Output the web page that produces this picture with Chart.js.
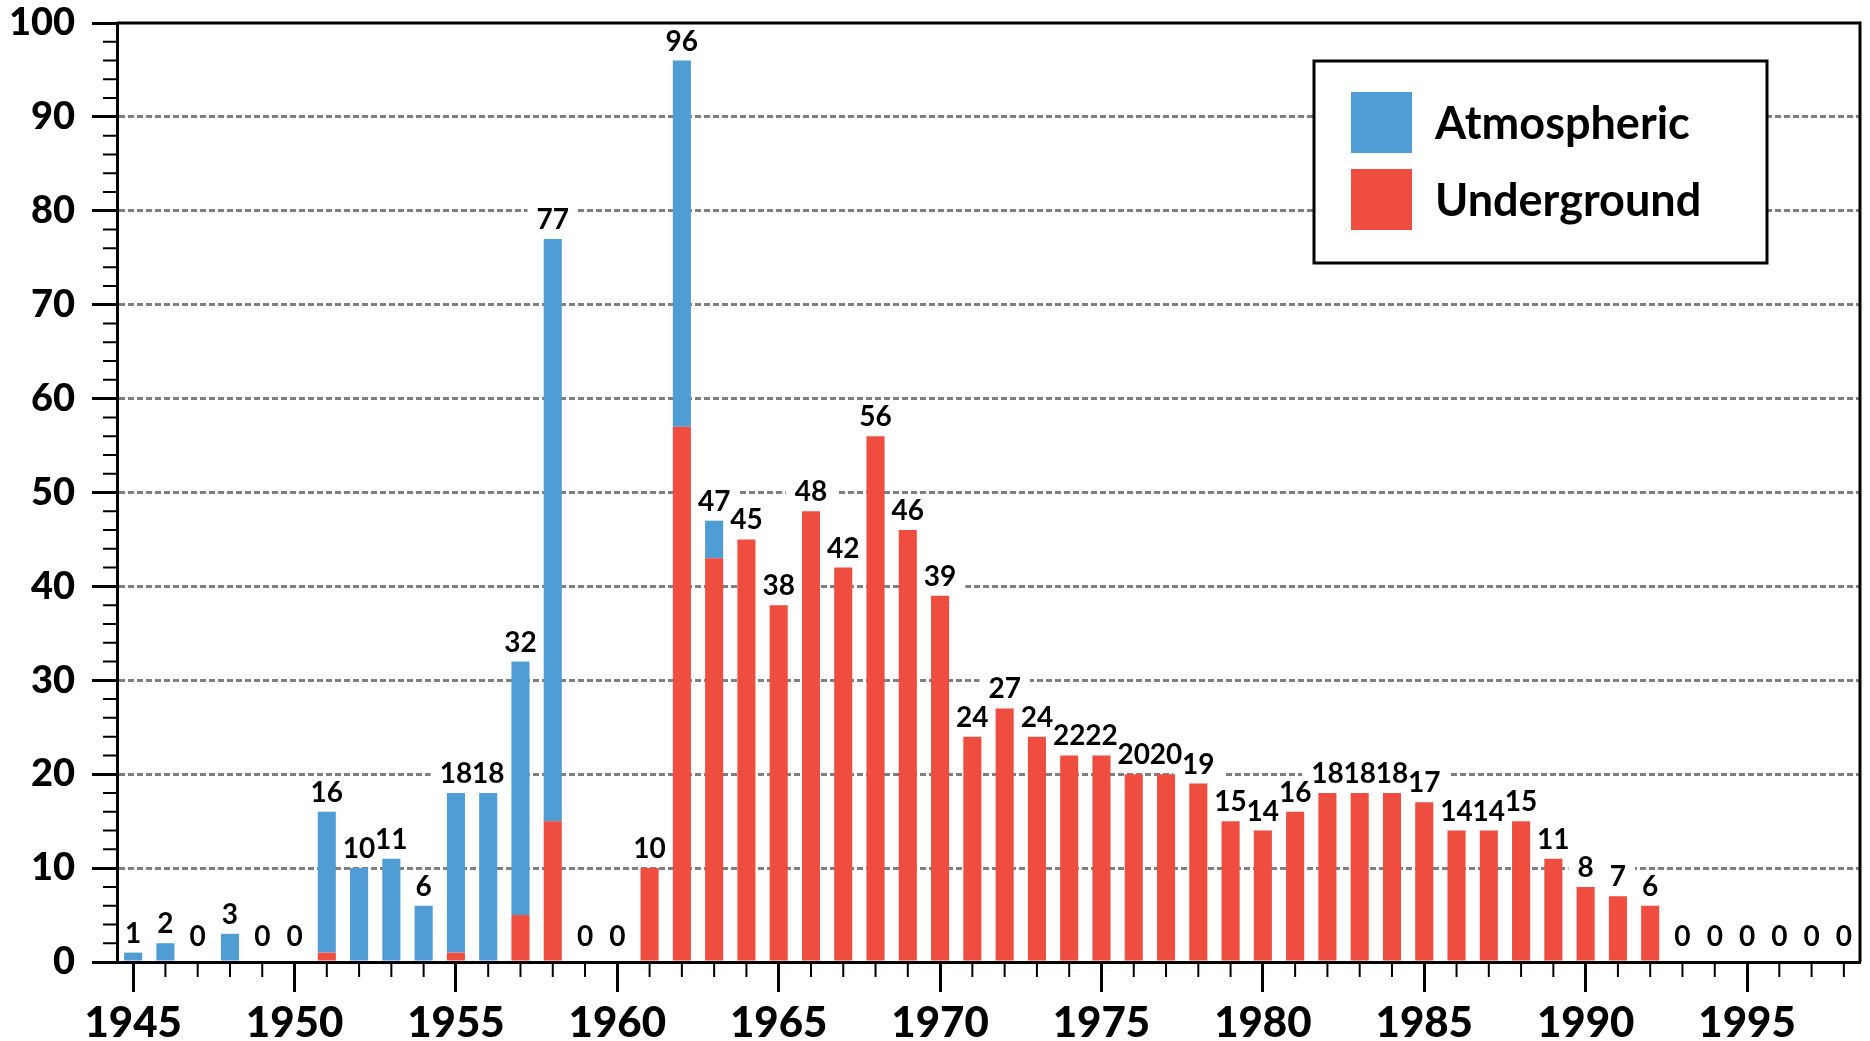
<!DOCTYPE html>
<html>
<head>
<meta charset="utf-8">
<script src="https://cdn.jsdelivr.net/npm/chart.js@4.4.1/dist/chart.umd.min.js"></script>
<style>
  html, body { margin: 0; padding: 0; background: #fff; }
  #wrap { width: 1870px; height: 1041px; }
</style>
</head>
<body>
<div id="wrap"><canvas id="grafica" width="1870" height="1041"></canvas></div>
<script>
// Años (categorías del eje x)
const years = [1945, 1946, 1947, 1948, 1949, 1950, 1951, 1952, 1953, 1954,
  1955, 1956, 1957, 1958, 1959, 1960, 1961, 1962, 1963, 1964,
  1965, 1966, 1967, 1968, 1969, 1970, 1971, 1972, 1973, 1974,
  1975, 1976, 1977, 1978, 1979, 1980, 1981, 1982, 1983, 1984,
  1985, 1986, 1987, 1988, 1989, 1990, 1991, 1992, 1993, 1994,
  1995, 1996, 1997, 1998];

// Ensayos por año
const atmospheric = [1, 2, 0, 3, 0, 0, 15, 10, 11, 6,
  17, 18, 27, 62, 0, 0, 0, 39, 4, 0,
  0, 0, 0, 0, 0, 0, 0, 0, 0, 0,
  0, 0, 0, 0, 0, 0, 0, 0, 0, 0,
  0, 0, 0, 0, 0, 0, 0, 0, 0, 0,
  0, 0, 0, 0];
const underground = [0, 0, 0, 0, 0, 0, 1, 0, 0, 0,
  1, 0, 5, 15, 0, 0, 10, 57, 43, 45,
  38, 48, 42, 56, 46, 39, 24, 27, 24, 22,
  22, 20, 20, 19, 15, 14, 16, 18, 18, 18,
  17, 14, 14, 15, 11, 8, 7, 6, 0, 0,
  0, 0, 0, 0];

// Etiquetas del eje x (cada 5 años)
const xLabelYears = [1945, 1950, 1955, 1960, 1965, 1970, 1975, 1980, 1985, 1990, 1995];

const BLUE = '#4f9dd4';
const RED = '#ee4d3f';
const FONT = 'Lato, "Open Sans", sans-serif';

// Ticks menores + marco superior/derecho
const minorTicks = {
  id: 'minorTicks',
  afterDraw(chart) {
    const { ctx, chartArea, scales: { x, y } } = chart;
    ctx.save();
    ctx.strokeStyle = '#000';
    ctx.lineWidth = 2;
    ctx.beginPath();
    for (let v = 0; v <= 100; v += 2) {
      if (v % 10 === 0) continue;
      const py = y.getPixelForValue(v);
      ctx.moveTo(chartArea.left - 14, py);
      ctx.lineTo(chartArea.left, py);
    }
    years.forEach((yr, i) => {
      if (yr % 5 === 0) return;
      const px = x.getPixelForValue(i);
      ctx.moveTo(px, chartArea.bottom);
      ctx.lineTo(px, chartArea.bottom + 15);
    });
    ctx.stroke();

    ctx.lineWidth = 3;
    ctx.beginPath();
    ctx.moveTo(chartArea.left, chartArea.top);
    ctx.lineTo(chartArea.right, chartArea.top);
    ctx.lineTo(chartArea.right, chartArea.bottom);
    ctx.stroke();
    ctx.restore();
  }
};

// Totales encima de cada barra
function labelItems(chart) {
  const { ctx, scales: { x, y } } = chart;
  ctx.font = 'bold 28px ' + FONT;
  const zero = y.getPixelForValue(0);
  return years.map((yr, i) => {
    const total = atmospheric[i] + underground[i];
    const text = String(total);
    const base = Math.min(y.getPixelForValue(total) - 10, zero - 16);
    return { text, x: x.getPixelForValue(i), base, w: ctx.measureText(text).width };
  });
}

const totalLabels = {
  id: 'totalLabels',
  beforeDatasetsDraw(chart) {
    const { ctx, chartArea } = chart;
    const items = labelItems(chart);
    ctx.save();
    ctx.beginPath();
    ctx.rect(chartArea.left + 2, chartArea.top + 2, chartArea.right - chartArea.left - 4, chartArea.bottom - chartArea.top - 4);
    ctx.clip();
    ctx.fillStyle = '#fff';
    items.forEach(it => {
      ctx.fillRect(it.x - it.w / 2 - 9, it.base - 24, it.w + 18, 28);
    });
    ctx.restore();
  },
  afterDatasetsDraw(chart) {
    const { ctx } = chart;
    const items = labelItems(chart);
    ctx.save();
    ctx.fillStyle = '#000';
    ctx.textAlign = 'center';
    ctx.textBaseline = 'alphabetic';
    ctx.font = 'bold 28px ' + FONT;
    items.forEach(it => ctx.fillText(it.text, it.x, it.base));
    ctx.restore();
  }
};

// Leyenda dentro del área del gráfico
const boxLegend = {
  id: 'boxLegend',
  afterDraw(chart) {
    const { ctx, chartArea } = chart;
    const left = chartArea.right - 546;
    const top = chartArea.top + 38;
    const w = 453, h = 202;
    ctx.save();
    ctx.fillStyle = '#fff';
    ctx.fillRect(left, top, w, h);
    ctx.strokeStyle = '#000';
    ctx.lineWidth = 3;
    ctx.strokeRect(left, top, w, h);
    const items = chart.data.datasets.slice().reverse();
    ctx.font = 'bold 45px ' + FONT;
    ctx.textBaseline = 'middle';
    ctx.textAlign = 'left';
    items.forEach((ds, k) => {
      const sy = top + 31 + k * 77;
      ctx.fillStyle = ds.backgroundColor;
      ctx.fillRect(left + 37, sy, 61, 61);
      ctx.fillStyle = '#000';
      ctx.fillText(ds.label, left + 121, sy + 32);
    });
    ctx.restore();
  }
};

function crearGrafica() {
  const ctx = document.getElementById('grafica').getContext('2d');
  new Chart(ctx, {
    type: 'bar',
    data: {
      labels: years.map(String),
      datasets: [
        { label: 'Underground', data: underground, backgroundColor: RED },
        { label: 'Atmospheric', data: atmospheric, backgroundColor: BLUE }
      ]
    },
    options: {
      responsive: false,
      animation: false,
      devicePixelRatio: 1,
      layout: { padding: { top: 23, right: 10, left: 0, bottom: 0 } },
      datasets: { bar: { barPercentage: 0.56, categoryPercentage: 1.0 } },
      plugins: { legend: { display: false }, tooltip: { enabled: false } },
      scales: {
        x: {
          stacked: true,
          offset: true,
          afterFit(scale) {
            scale.height = 79;
            scale.paddingLeft = 0;
            scale.paddingRight = 0;
          },
          grid: {
            offset: false,
            drawOnChartArea: false,
            tickLength: 30,
            tickWidth: 3,
            tickColor: c => (years[c.index] % 5 === 0 ? '#000' : 'rgba(0,0,0,0)')
          },
          border: { color: '#000', width: 3 },
          ticks: {
            autoSkip: false,
            maxRotation: 0,
            padding: 6,
            color: '#000',
            font: { family: FONT, size: 42, weight: '900' },
            callback: (v, i) => (xLabelYears.includes(years[i]) ? String(years[i]) : '')
          }
        },
        y: {
          stacked: true,
          min: 0,
          max: 100,
          afterFit(scale) {
            scale.width = 117;
            scale.paddingTop = 0;
            scale.paddingBottom = 0;
          },
          grid: {
            color: c => (c.tick && c.tick.value > 0 && c.tick.value < 100 ? '#7f7f7f' : 'rgba(0,0,0,0)'),
            lineWidth: 3,
            tickLength: 25,
            tickWidth: 3,
            tickColor: '#000'
          },
          border: { color: '#000', width: 3, dash: [6, 3] },
          ticks: {
            stepSize: 10,
            padding: 17,
            color: '#000',
            font: { family: FONT, size: 38, weight: '900' }
          }
        }
      }
    },
    plugins: [totalLabels, minorTicks, boxLegend]
  });
}

if (document.fonts && document.fonts.load) {
  Promise.all([
    document.fonts.load('bold 28px Lato'),
    document.fonts.load('900 42px Lato')
  ]).then(crearGrafica, crearGrafica);
} else {
  crearGrafica();
}
</script>
</body>
</html>
